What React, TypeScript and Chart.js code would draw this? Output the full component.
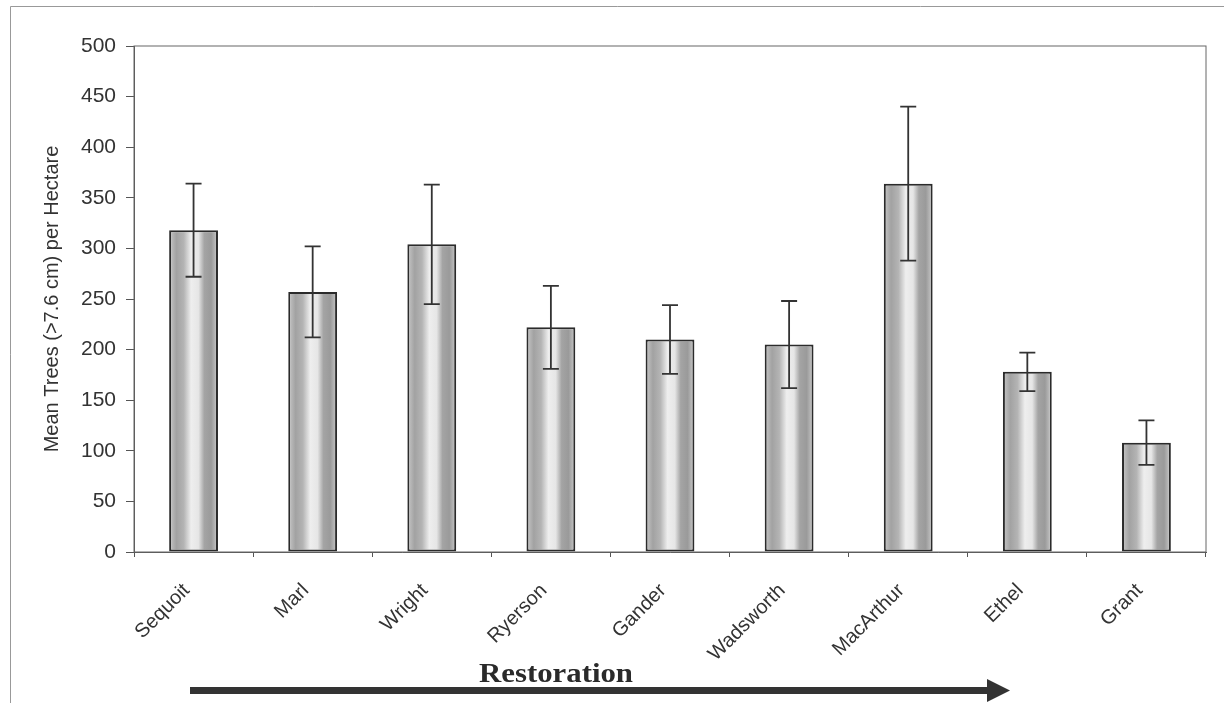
import { useEffect, useRef } from 'react'
import { Chart, registerables } from 'chart.js'

Chart.register(...registerables);

const sites = ['Sequoit', 'Marl', 'Wright', 'Ryerson', 'Gander', 'Wadsworth', 'MacArthur', 'Ethel', 'Grant'];
const meanTrees = [318, 257, 304, 222, 210, 205, 364, 178, 108];
const stdErr = [46, 45, 59, 41, 34, 43, 76, 19, 22];
const yTicks = [0, 50, 100, 150, 200, 250, 300, 350, 400, 450, 500];

const PLOT = { left: 134, right: 1206, top: 46, bottom: 552 };
const W = 1224;
const H = 703;
const BAR_PCT = 0.41;
const SANS = '"Liberation Sans", Arial, sans-serif';

// error bars, plot frame, restoration arrow
const extras = {
  id: 'extras',
  afterDatasetsDraw(chart: any) {
    const { ctx, chartArea } = chart;
    const x = chart.scales.x;
    const y = chart.scales.y;
    ctx.save();
    ctx.strokeStyle = '#333';
    ctx.lineWidth = 1.8;
    meanTrees.forEach((m, i) => {
      const cx = x.getPixelForValue(i);
      const hi = y.getPixelForValue(m + stdErr[i]);
      const lo = y.getPixelForValue(m - stdErr[i]);
      ctx.beginPath();
      ctx.moveTo(cx, hi);
      ctx.lineTo(cx, lo);
      ctx.moveTo(cx - 8, hi);
      ctx.lineTo(cx + 8, hi);
      ctx.moveTo(cx - 8, lo);
      ctx.lineTo(cx + 8, lo);
      ctx.stroke();
    });
    // frame around plot
    ctx.strokeStyle = '#666';
    ctx.lineWidth = 1;
    ctx.strokeRect(chartArea.left, chartArea.top, chartArea.right - chartArea.left, chartArea.bottom - chartArea.top);
    ctx.restore();
  },
  afterDraw(chart: any) {
    const { ctx } = chart;
    ctx.save();
    // figure border
    ctx.strokeStyle = '#999';
    ctx.lineWidth = 1;
    ctx.beginPath();
    ctx.moveTo(10.5, H);
    ctx.lineTo(10.5, 6.5);
    ctx.lineTo(W, 6.5);
    ctx.stroke();
    // Restoration label, stretched a bit like the scanned original
    ctx.fillStyle = '#2a2a2a';
    ctx.font = 'bold 27px "Liberation Serif", "Times New Roman", serif';
    ctx.textAlign = 'left';
    ctx.textBaseline = 'alphabetic';
    const label = 'Restoration';
    const tw = ctx.measureText(label).width;
    const target = 154;
    ctx.translate(479, 682);
    ctx.scale(target / tw, 1);
    ctx.fillText(label, 0, 0);
    ctx.setTransform(chart.currentDevicePixelRatio, 0, 0, chart.currentDevicePixelRatio, 0, 0);
    // arrow
    ctx.fillStyle = '#333';
    ctx.fillRect(190, 687, 800, 7);
    ctx.beginPath();
    ctx.moveTo(987, 679);
    ctx.lineTo(1010, 690.5);
    ctx.lineTo(987, 702);
    ctx.closePath();
    ctx.fill();
    ctx.restore();
  },
};

function barFill(c: any) {
  const chart = c.chart;
  const xs = chart.scales && chart.scales.x;
  if (!xs || c.dataIndex === undefined) return '#bbb';
  const cx = xs.getPixelForValue(c.dataIndex);
  const half = (xs.width / sites.length) * BAR_PCT / 2;
  if (!Number.isFinite(cx) || !Number.isFinite(half) || half <= 0) return '#bbb';
  const g = chart.ctx.createLinearGradient(cx - half, 0, cx + half, 0);
  g.addColorStop(0, '#c8c8c8');
  g.addColorStop(0.15, '#a2a2a2');
  g.addColorStop(0.3, '#b4b4b4');
  g.addColorStop(0.45, '#eeeeee');
  g.addColorStop(0.6, '#e6e6e6');
  g.addColorStop(0.72, '#a4a4a4');
  g.addColorStop(0.86, '#9a9a9a');
  g.addColorStop(1, '#cccccc');
  return g;
}

export default function App() {
  const canvasRef = useRef<HTMLCanvasElement>(null);
  const chartRef = useRef<Chart | null>(null);

  useEffect(() => {
    if (!canvasRef.current) return;
    chartRef.current?.destroy();
    chartRef.current = new Chart(canvasRef.current, {
      type: 'bar',
      data: {
        labels: sites,
        datasets: [{
          data: meanTrees,
          backgroundColor: barFill,
          borderColor: '#2b2b2b',
          borderWidth: 2,
          borderSkipped: false,
          barPercentage: BAR_PCT,
          categoryPercentage: 1,
        }],
      },
      options: {
        animation: false,
        responsive: true,
        maintainAspectRatio: false,
        layout: { padding: { left: 40, top: PLOT.top, right: W - PLOT.right, bottom: 0 } },
        plugins: {
          legend: { display: false },
          tooltip: { enabled: false },
        },
        scales: {
          x: {
            afterFit: (s: any) => { s.height = H - PLOT.bottom; },
            grid: { display: true, drawOnChartArea: false, offset: true, tickLength: 5, color: '#555' },
            border: { color: '#555', width: 1 },
            ticks: {
              autoSkip: false,
              maxRotation: 45,
              minRotation: 45,
              color: '#333',
              padding: 22,
              labelOffset: -7,
              font: { family: SANS, size: 20 },
            },
          },
          y: {
            min: 0,
            max: 500,
            afterFit: (s: any) => { s.width = PLOT.left - 40; },
            afterBuildTicks: (s: any) => { s.ticks = yTicks.map(v => ({ value: v })); },
            grid: { display: true, drawOnChartArea: false, tickLength: 8, color: '#555' },
            border: { color: '#555', width: 1 },
            ticks: {
              color: '#333',
              padding: 10,
              font: { family: SANS, size: 21 },
            },
            title: {
              display: true,
              text: 'Mean Trees (>7.6 cm) per Hectare',
              color: '#333',
              padding: { top: 0, bottom: 4 },
              font: { family: SANS, size: 20 },
            },
          },
        },
      },
      plugins: [extras],
    });
    return () => { chartRef.current?.destroy(); };
  }, []);

  return (
    <div style={{ position: 'fixed', left: 0, top: 0, width: W, height: H, background: '#fff' }}>
      <canvas ref={canvasRef} />
    </div>
  );
}
